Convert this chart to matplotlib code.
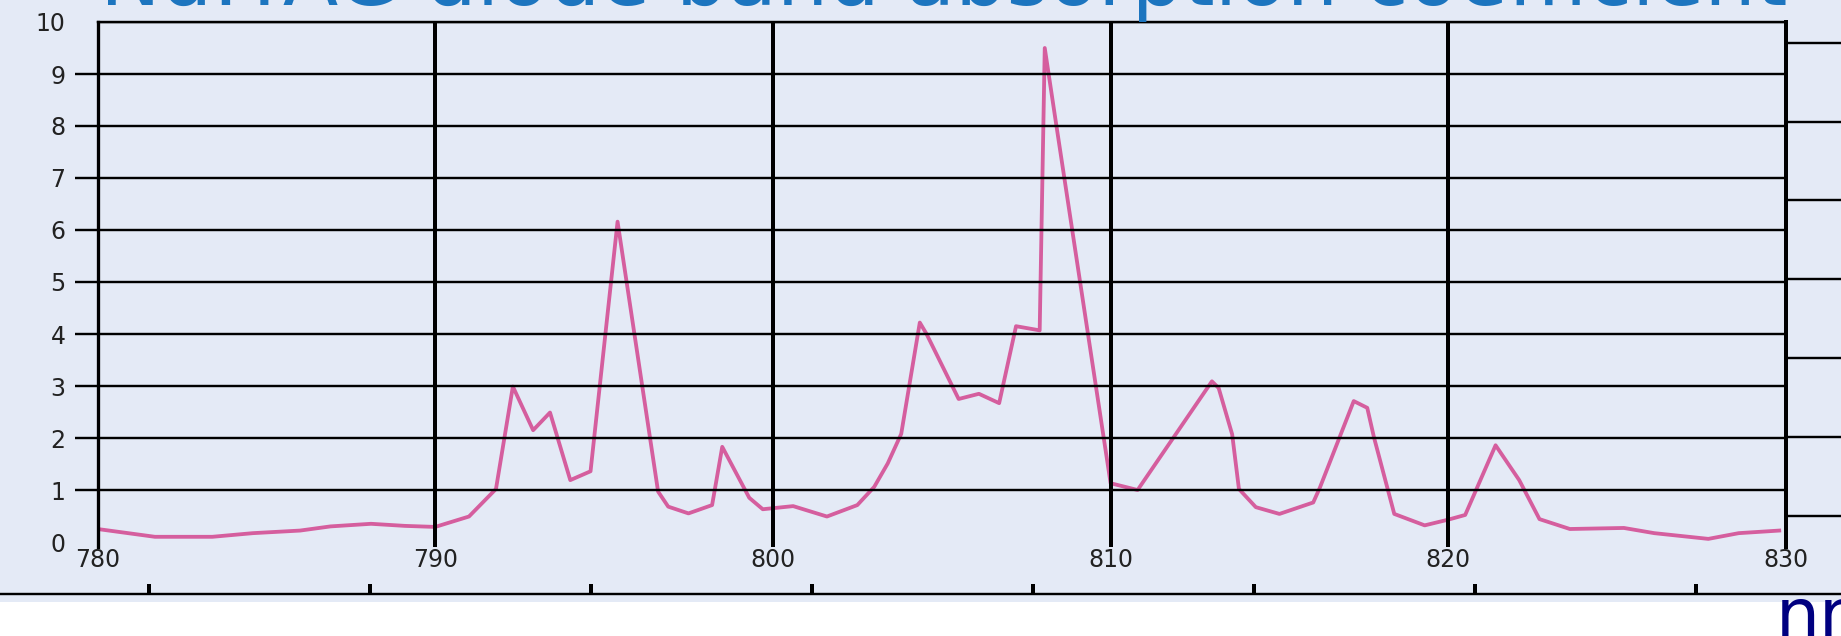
import matplotlib.pyplot as plt
from matplotlib.patches import Rectangle

# Nd:YAG absorption around the 808 nm pump band
wavelength = [780.0, 781.7, 783.4, 784.6, 786.0, 786.9, 788.1, 789.1, 790.0, 791.0,
              791.8, 792.3, 792.9, 793.4, 794.0, 794.6, 795.4, 796.6, 796.9, 797.5,
              798.2, 798.5, 799.3, 799.7, 800.6, 801.6, 802.5, 803.0, 803.4, 803.8,
              804.35, 804.55, 805.5, 806.1, 806.7, 807.2, 807.9, 808.05, 808.35, 810.0,
              810.8, 813.0, 813.2, 813.6, 813.8, 814.3, 815.0, 816.0, 816.2, 817.2,
              817.6, 817.8, 818.4, 819.3, 820.0, 820.5, 821.4, 822.1, 822.7, 823.6,
              825.2, 826.1, 827.7, 828.6, 829.8]
absorption = [0.25, 0.10, 0.10, 0.17, 0.22, 0.30, 0.35, 0.31, 0.29, 0.49,
              1.02, 2.99, 2.15, 2.49, 1.19, 1.36, 6.16, 0.97, 0.68, 0.55,
              0.71, 1.83, 0.85, 0.63, 0.69, 0.49, 0.71, 1.06, 1.51, 2.08,
              4.22, 4.00, 2.75, 2.85, 2.67, 4.15, 4.07, 9.50, 8.20, 1.13,
              1.00, 3.09, 2.96, 2.07, 1.02, 0.67, 0.54, 0.76, 1.05, 2.71,
              2.58, 2.01, 0.54, 0.32, 0.43, 0.52, 1.86, 1.19, 0.44, 0.25,
              0.27, 0.17, 0.06, 0.17, 0.22]
x_ticks = [780, 790, 800, 810, 820, 830]
y_ticks = list(range(0, 11))

title = 'Nd:YAG diode band absorption coefficient'
unit = 'nm'

W, H, dpi = 1841, 636, 100
bg = '#e4eaf6'
pink = '#d55e9e'
px = 72 / dpi  # points per pixel

fig = plt.figure(figsize=(W / dpi, H / dpi), dpi=dpi)
fig.patch.set_facecolor('white')
fig.add_artist(Rectangle((0, 1 - 602 / H), 1, 602 / H, transform=fig.transFigure,
                         facecolor=bg, edgecolor='none', zorder=0))

# main plot
ax = fig.add_axes([97.5 / W, 1 - 547.2 / H, (1786 - 97.5) / W, (547.2 - 22) / H])
ax.set_facecolor('none')
ax.plot(wavelength, absorption, color=pink, lw=3.8 * px, zorder=2)
ax.set_xlim(780, 830)
ax.set_ylim(-0.1, 10)
ax.set_xticks(x_ticks)
ax.set_yticks(y_ticks)
ax.set_axisbelow(False)
ax.xaxis.grid(True, color='black', lw=4 * px)
ax.yaxis.grid(True, color='black', lw=2.4 * px)
ax.yaxis.get_major_ticks()[0].gridline.set_visible(False)
for i in (0, -1):
    ax.yaxis.get_major_ticks()[i].tick1line.set_visible(False)

ax.tick_params(axis='x', length=0, pad=1 * px, labelsize=17, labelcolor='#222222')
ax.tick_params(axis='y', direction='out', length=23 * px, width=2.4 * px,
               pad=9 * px, labelsize=17, labelcolor='#222222')

ax.spines['bottom'].set_visible(False)
ax.spines['top'].set_linewidth(2.4 * px)
ax.spines['left'].set_linewidth(3.3 * px)
ax.spines['right'].set_linewidth(4 * px)

# strip of the neighbouring chart: axis along the bottom
ax_b = fig.add_axes([0, 1 - 594 / H, 1, 10 / H])
ax_b.set_facecolor('none')
ax_b.set_xlim(-149 / 221, (W - 149) / 221)
ax_b.set_xticks(range(8))
ax_b.set_yticks([])
ax_b.tick_params(axis='x', direction='in', length=10 * px, width=4 * px, labelbottom=False)
for s in ('top', 'left', 'right'):
    ax_b.spines[s].set_visible(False)
ax_b.spines['bottom'].set_linewidth(2.4 * px)

# and its gridlines on the right edge
ax_r = fig.add_axes([1786 / W, 1 - 548 / H, (W - 1786) / W, (548 - 22) / H])
ax_r.set_facecolor('none')
ax_r.set_ylim((516 - 548) / 78.9, (516 - 22) / 78.9)
ax_r.set_yticks(range(7))
ax_r.set_xticks([])
ax_r.tick_params(axis='y', length=0, labelleft=False)
ax_r.yaxis.grid(True, color='black', lw=2.4 * px)
for s in ax_r.spines.values():
    s.set_visible(False)

# title, fitted to the plot width and cut by the top edge
t = fig.text(100 / W, 1 - 4.5 / H, title, color='#1c75bf', fontsize=40,
             family='DejaVu Sans', ha='left', va='baseline')
fig.canvas.draw()
w = t.get_window_extent().width
t.set_fontsize(40 * 1686 / w)

fig.text(1776 / W, 1 - 638 / H, unit, color='#000080', fontsize=50,
         family=['Liberation Sans Narrow', 'DejaVu Sans'], ha='left', va='baseline')

fig.savefig('out.png', dpi=dpi, facecolor=fig.get_facecolor())
